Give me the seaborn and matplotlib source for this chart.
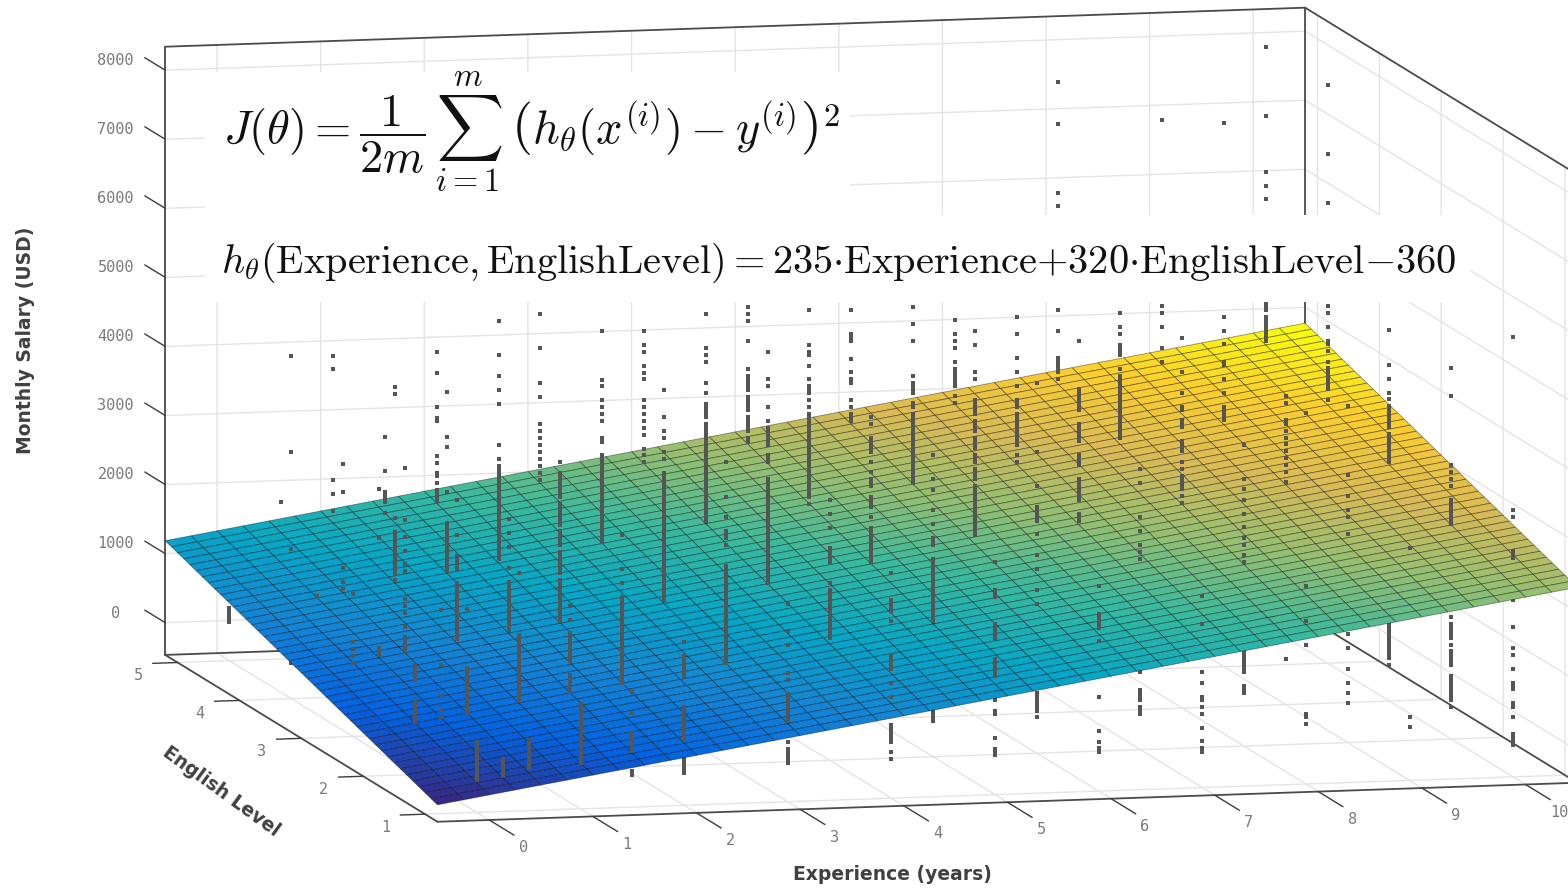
import numpy as np
import pandas as pd
import matplotlib
matplotlib.use("Agg")
import matplotlib.pyplot as plt
from matplotlib.patches import Rectangle
from mpl_toolkits.mplot3d import proj3d
import seaborn as sns

# salary readings per experience value, one dict per english level
level_5 = {
    0: [300, 250, 200, 150, 100],
    0.5: [1800],
    1: [3900, 3700, 2100, 1900, 1650],
    1.5: [2700, 2200, 1900, 1850, 1800, 1750, 1600],
    2: [3900, 3600, 3100, 2950, 2900, 2400, 2300, 2150, 2100, 2000, 1900, 1850, 1800, 1750],
    3: [4400, 3900, 3400, 3200, 2800, 2700, 2600, 2500, 2400, 2300, 2200, 2100, 2000],
    4: [4100, 3900, 3800, 3600, 3500, 3400, 3100, 3000, 2900, 2800, 2700, 2600, 2400, 2300, 2200],
    5: [4400, 4300, 4200, 3900, 3500, 3400, 3350, 3300, 3250, 3200, 3100, 3050, 3000, 2950, 2900,
        2800, 2750, 2700, 2650, 2600, 2500, 2450],
    6: [4300, 3950, 3900, 3850, 3600, 3400, 3300, 3250, 3000, 2900, 2800, 2750, 2700],
    7: [4100, 3900, 3800, 3700, 3500, 3400, 3350, 3300, 3250, 3200, 3150, 3000, 2900],
    8: [7500, 6900, 5900, 5700, 4200, 3900, 3500, 3450, 3400, 3350, 3300, 3200],
    9: [6900, 4200, 4100, 3900, 3600, 3400],
    10: [7900, 6900, 6100, 5900, 5700, 4200, 4150, 4100, 4000, 3950, 3900, 3850, 3800, 3750, 3700, 3650],
}
level_4 = {
    0: [4500, 3100, 1700, 50],
    0.25: [1000],
    0.5: [2900, 2500, 1400, 1200, 1100],
    1: [4000, 3900, 2100, 1900, 1850, 1800, 1750, 1700, 1650, 1600, 1550, 1500, 1450, 1400, 1350, 1300, 1200],
    1.5: [3900, 3250, 3100, 2450, 2000, 1950, 1900, 1850, 1800, 1750, 1700, 1650, 1600, 1550, 1500, 1450,
          1400, 1350, 1300],
    2: [4900, 4400, 4100, 3900, 3700, 3100, 2900, 2800, 2750, 2700, 2650, 2600, 2550, 2500, 2450, 2400,
        2350, 2300, 2250, 2200, 2150, 2100, 2050, 2000, 1950, 1900, 1850, 1800, 1750, 1700, 1650, 1600,
        1550, 1500, 1450],
    3: [4700, 4000, 3900, 3700, 3600, 3500, 3400, 3150, 3100, 2900, 2850, 2800, 2750, 2700, 2650, 2600,
        2550, 2500, 2450, 2400, 2350, 2300, 2250, 2200, 2150, 2100, 2050, 2000, 1950, 1900, 1850, 1800,
        1750, 1700, 1650],
    4: [4900, 4400, 4300, 4200, 3900, 3750, 3600, 3550, 3500, 3450, 3400, 3300, 3250, 3200, 3150, 3100,
        3050, 3000, 2950, 2900, 2850, 2800, 2750, 2700, 2650, 2600, 2550, 2500, 2450, 2400, 2350, 2300,
        2250, 2200, 2150, 2100, 2050, 2000, 1950, 1900, 1850],
    5: [4900, 4400, 4300, 4250, 4100, 3900, 3800, 3750, 3700, 3600, 3500, 3400, 3350, 3300, 3250, 3200,
        3150, 3100, 3050, 3000, 2950, 2900, 2850, 2800, 2750, 2700, 2650, 2600, 2550, 2500, 2450, 2400,
        2350, 2300, 2250, 2200, 2100],
    6: [4900, 4650, 4400, 3900, 3800, 3750, 3700, 3650, 3500, 3450, 3350, 3300, 3250, 3200, 3150, 3100,
        3050, 3000, 2950, 2900, 2850, 2800, 2750, 2700, 2650, 2600, 2550, 2500, 2450, 2400, 2350],
    7: [4700, 4450, 4100, 3900, 3700, 3500, 3450, 3400, 3300, 3250, 3200, 3150, 3100, 3050, 3000, 2950,
        2900, 2850, 2700, 2600],
    8: [4700, 4500, 4400, 4250, 4200, 4150, 4100, 3900, 3800, 3750, 3700, 3650, 3600, 3550, 3500, 3450,
        3400, 3350, 3300, 3250, 3200, 3150, 3100, 3050, 3000, 2950, 2900],
    9: [7400, 4600, 4400, 4200, 3950, 3900, 3700, 3500, 3300, 3250, 3200, 3150, 3100],
    10: [7900, 6900, 6200, 4700, 4600, 4400, 4200, 4150, 4050, 3900, 3800, 3750, 3700, 3650, 3600, 3550,
         3500, 3350],
}
level_3 = {
    0: [1600, 900, 800, 700, 600],
    0.25: [3100, 2400, 800, 750, 700],
    0.5: [3400, 2650, 2400, 2200, 2000, 1900, 1500, 1400, 1300, 1100, 950, 900, 850, 800, 750],
    1: [2900, 2400, 2100, 2050, 2000, 1950, 1900, 1700, 1650, 1600, 1550, 1500, 1450, 1400, 1350, 1300,
        1250, 1200, 1150, 1100, 1050, 1000, 950, 900],
    1.5: [2600, 2400, 2200, 1900, 1700, 1650, 1600, 1550, 1500, 1450, 1400, 1350, 1300, 1250, 1200, 1150,
          1100, 1050, 1000],
    2: [3400, 3250, 3200, 3150, 3100, 3050, 3000, 2950, 2900, 2800, 2750, 2700, 2650, 2600, 2550, 2500,
        2400, 2350, 2300, 2250, 2200, 2100, 2050, 2000, 1950, 1900, 1850, 1800, 1700, 1650, 1600, 1550,
        1500, 1450, 1400, 1350, 1300, 1250, 1200, 1150, 1100],
    3: [4400, 4000, 3800, 3700, 3500, 3400, 3200, 3150, 3100, 3050, 3000, 2950, 2900, 2850, 2800, 2750,
        2700, 2650, 2600, 2550, 2500, 2450, 2400, 2350, 2300, 2250, 2200, 2150, 2100, 2050, 2000, 1950,
        1900, 1850, 1800, 1750, 1700, 1650, 1600, 1550, 1500, 1450, 1400, 1350, 1300],
    4: [4900, 4500, 4400, 4100, 3900, 3800, 3750, 3700, 3650, 3600, 3550, 3400, 3350, 3300, 3050, 3000,
        2950, 2900, 2850, 2800, 2750, 2700, 2650, 2600, 2550, 2500, 2450, 2400, 2350, 2300, 2250, 2200,
        2150, 2100, 2050, 2000, 1950, 1900, 1850, 1800, 1750, 1700, 1650, 1600, 1550],
    5: [3900, 3800, 3600, 3550, 3500, 3450, 3400, 3250, 3100, 3000, 2950, 2900, 2750, 2700, 2650, 2600,
        2450, 2300, 2250, 2200, 2150, 2100, 2050, 2000, 1950, 1900, 1850, 1800],
    6: [5100, 4900, 4500, 4400, 4100, 4050, 4000, 3950, 3900, 3800, 3750, 3700, 3650, 3550, 3500, 3450,
        3400, 3300, 3250, 3200, 3100, 3050, 3000, 2950, 2850, 2800, 2750, 2700, 2650, 2600, 2550, 2500,
        2450, 2400, 2350, 2300, 2250, 2200, 2150],
    7: [4900, 4200, 4150, 4100, 4050, 4000, 3950, 3900, 3700, 3650, 3600, 3550, 3500, 3450, 3250, 3200,
        3150, 3100, 2900, 2850, 2800, 2750, 2700, 2650, 2600, 2400, 2350, 2300],
    8: [4900, 4400, 4100, 3900, 3850, 3700, 3650, 3600, 3400, 3350, 3300, 3250, 3100, 3000, 2900, 2850,
        2800, 2750, 2700, 2600, 2500],
    9: [4000, 3900, 3650, 3600, 3500, 3400, 3300, 3200, 3100, 3000, 2900, 2750, 200],
    10: [4900, 4400, 4200, 4000, 3900, 3800, 3750, 3700, 3650, 3600, 3550, 3500, 3400, 3350, 3300, 3250,
         3200, 3150, 3100, 3050, 3000, 650, 600, 550, 500, 450, 400, 350, 300, 250, 200, 150, 50],
}
level_2 = {
    0: [1100, 1050, 1000, 950, 900, 600, 550, 500, 450, 400, 350, 300],
    0.25: [1900, 1100, 650, 450, 350],
    0.5: [1900, 1050, 1000, 950, 900, 850, 800, 750, 700, 650, 600, 550, 500, 450, 400],
    1: [2400, 1500, 1450, 1400, 1350, 1300, 1250, 1200, 1150, 1100, 1050, 1000, 950, 900, 850, 800, 750,
        700, 650, 600, 550],
    1.5: [1900, 1700, 1500, 1450, 1400, 1350, 1300, 1250, 1200, 1150, 1100, 900, 850, 800, 750, 700, 650],
    2: [2900, 2400, 2200, 2000, 1950, 1900, 1850, 1800, 1750, 1700, 1650, 1600, 1550, 1500, 1450, 1400,
        1350, 1300, 1250, 1200, 1150, 1100, 1050, 1000, 950, 900, 850, 800, 750],
    3: [3900, 3400, 3100, 2900, 2850, 2800, 2700, 2400, 2350, 2300, 2250, 2200, 2150, 2100, 2050, 2000,
        1950, 1900, 1850, 1800, 1750, 1700, 1650, 1600, 1550, 1500, 1450, 1400, 1350, 1300, 1250, 1200,
        1150, 1100, 1050, 1000],
    4: [3300, 3100, 2900, 2600, 2550, 2500, 2450, 2400, 2100, 2000, 1950, 1900, 1850, 1800, 1750, 1700,
        1650, 1600, 1550, 1500, 1450, 1400, 1350, 1300],
    5: [3900, 3550, 3400, 3100, 2900, 2700, 2650, 2600, 2400, 2350, 2300, 2250, 2200, 2150, 2100, 2050,
        2000, 1950, 1900, 1850, 1800, 1750, 1700, 1650, 1600, 1550, 1500, 1450, 200, 150, 100, 50],
    6: [4900, 3900, 3400, 3100, 3050, 3000, 2950, 2900, 2700, 2400, 2200, 1900, 1700, 400, 350, 300, 250,
        200, 150, 50],
    7: [3600, 3400, 2900, 2700, 2500, 2400, 2300, 650, 400, 350, 300, 250, 150, 100, 50],
    8: [3900, 3400, 3250, 3100, 2900, 2700, 2550, 2450, 2300, 2200, 900, 850, 800, 750, 700, 650, 600,
        400, 350, 300],
    9: [4400, 3400, 3100, 2900, 2800, 2550, 1100, 900, 600, 400, 250, 100],
    10: [4900, 4500, 3500, 3400, 3300, 3200, 3000, 2950, 2900, 2850, 2800, 2750, 2700, 2650, 1300, 1200,
         1150, 1100, 1050, 1000, 900, 800, 750, 700, 650, 600, 450, 400, 350, 300, 250, 200, 150, 100, 0],
}
level_1 = {
    0: [550, 500, 450, 400, 350, 300, 250, 200, 150, 100, 50, 0],
    0.25: [300, 250, 200, 150, 100, 50, 0],
    0.5: [550, 500, 450, 400, 350, 300, 250, 200, 150],
    1: [1050, 1000, 950, 900, 850, 800, 750, 700, 650, 600, 550, 500, 450, 400, 350, 300, 250, 200, 150],
    1.5: [1200, 900, 600, 550, 500, 450, 400, 350, 300, 50, 0],
    2: [1900, 1700, 1650, 1600, 1550, 1500, 1450, 1400, 950, 900, 850, 800, 750, 700, 650, 600, 550, 500,
        200, 150, 100, 50, 0],
    3: [2400, 2000, 1800, 1400, 1300, 1100, 1050, 1000, 950, 900, 850, 800, 750, 700, 400, 300, 250, 200,
        150, 100],
    4: [2800, 2400, 2350, 2300, 2250, 2100, 1600, 1550, 1500, 1450, 1400, 1200, 1000, 600, 550, 500, 450,
        400, 350, 200, 100],
    5: [2900, 2500, 2450, 2400, 2000, 1950, 1900, 1850, 1800, 1500, 1450, 1400, 1350, 1300, 1250, 900,
        750, 700, 350, 200, 150, 100],
    6: [2500, 2100, 2050, 2000, 1950, 1900, 1700, 900, 400, 250, 150, 100],
    7: [2300, 1900, 1200, 1050, 850, 800, 700, 600, 400, 200, 100, 50],
    8: [4900, 2400, 1900, 1550, 550, 500, 400],
    9: [2900, 450, 300],
    10: [5900, 3400, 3300, 2800, 2750, 2700, 2100, 1700, 1400, 1300, 1100, 900, 850, 800, 600, 550, 400,
         150, 100, 50, 0],
}
levels = {1: level_1, 2: level_2, 3: level_3, 4: level_4, 5: level_5}

# fitted plane shown on the chart
coef_exp = 235
coef_eng = 320
intercept = -360

exp_ticks = [0, 1, 2, 3, 4, 5, 6, 7, 8, 9, 10]
eng_ticks = [1, 2, 3, 4, 5]
sal_ticks = [0, 1000, 2000, 3000, 4000, 5000, 6000, 7000, 8000]

exp_lim = (-0.5, 10.5)
eng_lim = (0.8, 5.2)
sal_lim = (-467, 8340)

parula = ["#352a87", "#0363e1", "#1485d4", "#06a7c6", "#38b99e", "#92bf73", "#d9ba56", "#fcce2e", "#f9fb0e"]

rows = []
for eng, cols in levels.items():
    for exp, sal in cols.items():
        rows.append(pd.DataFrame({"exp": exp, "eng": eng, "sal": sal}))
df = pd.concat(rows, ignore_index=True)
df["fit"] = coef_exp * df["exp"] + coef_eng * df["eng"] + intercept
over = df[df["sal"] >= df["fit"]]
under = df[df["sal"] < df["fit"]]

sns.set_theme(style="white", rc={"grid.color": "#e4e4e4", "grid.linewidth": 1.0})
W, H = 1568, 889
fig = plt.figure(figsize=(W / 100, H / 100), dpi=100, facecolor="white")

# the box runs past the right edge of the picture, so the axes are bigger than the figure
side = 1723
cx, cy = 848, 438
ax = fig.add_axes([(cx - side / 2) / W, (H - cy - side / 2) / H, side / W, side / H],
                  projection="3d", computed_zorder=False, proj_type="ortho")
ax.view_init(elev=8.33, azim=-103.3)
ax.set_box_aspect((1171, 1183, 614.5))
ax.set_facecolor("white")

edge = "#4a4a4a"
x0, x1 = exp_lim
y0, y1 = eng_lim
z0, z1 = sal_lim
box_edges = [
    ([x0, x1], [y0, y0], [z0, z0]), ([x0, x1], [y1, y1], [z0, z0]),
    ([x0, x0], [y0, y1], [z0, z0]), ([x1, x1], [y0, y1], [z0, z0]),
    ([x0, x0], [y1, y1], [z0, z1]), ([x1, x1], [y1, y1], [z0, z1]),
    ([x0, x1], [y1, y1], [z1, z1]), ([x1, x1], [y0, y1], [z1, z1]),
]
for xs, ys, zs in box_edges:
    ax.plot(xs, ys, zs, color=edge, lw=1.3, zorder=1)

tick_col = "#3c3c3c"
for e in exp_ticks:
    ax.plot([e, e], [y0, y0 - 0.4], [z0, z0], color=tick_col, lw=1.0, zorder=1)
for lv in eng_ticks:
    ax.plot([x0, x0 - 0.24], [lv, lv], [z0, z0], color=tick_col, lw=1.0, zorder=1)
for s in sal_ticks:
    ax.plot([x0, x0], [y1, y1 + 0.33], [s, s], color=tick_col, lw=1.0, zorder=1)

ax.scatter(under["exp"], under["eng"], under["sal"], s=6, marker="s", color="#555555",
           linewidths=0, depthshade=False, zorder=2)

exp_grid = np.arange(x0, x1 + 0.01, 0.25)
eng_grid = np.arange(y0, y1 + 0.01, 0.1)
X, Y = np.meshgrid(exp_grid, eng_grid)
Z = coef_exp * X + coef_eng * Y + intercept
ax.plot_surface(X, Y, Z, rstride=1, cstride=1, cmap=sns.blend_palette(parula, as_cmap=True),
                edgecolor=(0, 0, 0, 0.42), linewidth=0.6, shade=False, antialiased=True, zorder=3)

ax.scatter(over["exp"], over["eng"], over["sal"], s=6, marker="s", color="#555555",
           linewidths=0, depthshade=False, zorder=4)

ax.set_xlim(exp_lim)
ax.set_ylim(eng_lim)
ax.set_zlim(sal_lim)
ax.set_xticks(exp_ticks)
ax.set_yticks(eng_ticks)
ax.set_zticks(sal_ticks)
ax.set_xticklabels([])
ax.set_yticklabels([])
ax.set_zticklabels([])
ax.grid(True)
for axis in (ax.xaxis, ax.yaxis, ax.zaxis):
    axis.set_pane_color((1, 1, 1, 1))
    axis.pane.set_edgecolor((1, 1, 1, 0))
    axis.line.set_color((1, 1, 1, 0))
    axis.set_tick_params(color=(1, 1, 1, 0), length=0)

# tick labels are put at the projected spot of a 3d point, as plain 2d text
label_col = "#7a7a7a"
proj = ax.get_proj()


def tick_label(x, y, z, s):
    px, py, _ = proj3d.proj_transform(x, y, z, proj)
    ax.text2D(px, py, s, transform=ax.transData, color=label_col, fontsize=11,
              family="DejaVu Sans Mono", ha="center", va="center")


for e in exp_ticks:
    tick_label(e, y0 - 0.55, z0 - 100, str(e))
for lv in eng_ticks:
    tick_label(x0 - 0.38, lv, z0 - 170, str(lv))
for s in sal_ticks:
    tick_label(x0, y1 + 0.8, s - 300, str(s))


def fx(px):
    return px / W


def fy(py):
    return 1 - py / H


# white boxes the formulas sit on
fig.add_artist(Rectangle((fx(205), fy(215)), (850 - 205) / W, (215 - 72) / H, transform=fig.transFigure,
                         facecolor="white", edgecolor="none", zorder=5))
fig.add_artist(Rectangle((fx(205), fy(302)), (1470 - 205) / W, (302 - 215) / H, transform=fig.transFigure,
                         facecolor="white", edgecolor="none", zorder=5))

fig.text(fx(223), fy(132),
         r"$J(\theta)=\dfrac{1}{2m}\,\sum_{i=1}^{m}\;\left(h_\theta(x^{(i)})-y^{(i)}\right)^2$",
         fontsize=33.5, math_fontfamily="cm", color="#111111", ha="left", va="center", zorder=6)
fig.text(fx(221), fy(263),
         r"$h_\theta(\mathrm{Experience},\mathrm{EnglishLevel})=235{\cdot}\mathrm{Experience}{+}320{\cdot}"
         r"\mathrm{EnglishLevel}{-}360$",
         fontsize=29.1, math_fontfamily="cm", color="#111111", ha="left", va="center", zorder=6)

fig.text(fx(26), fy(340), "Monthly Salary (USD)", rotation=90, fontsize=13.5, fontweight="bold",
         color="#404040", ha="center", va="center", zorder=6)
fig.text(fx(892), fy(875), "Experience (years)", fontsize=13.5, fontweight="bold",
         color="#404040", ha="center", va="center", zorder=6)
fig.text(fx(221), fy(791), "English Level", rotation=-36, fontsize=13.5, fontweight="bold",
         color="#404040", ha="center", va="center", rotation_mode="anchor", zorder=6)

fig.savefig("out.png", dpi=100, facecolor="white")
